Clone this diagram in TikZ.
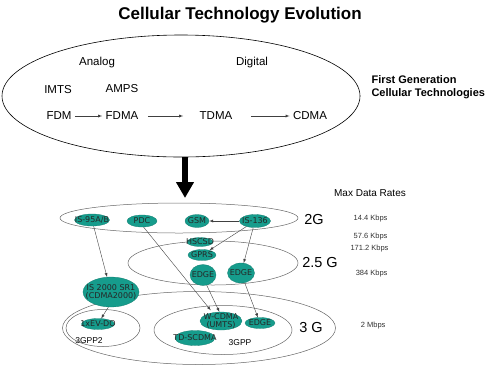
\documentclass[tikz,border=0pt]{standalone}
\usepackage{fontspec}
\setmainfont{Liberation Sans}
\newfontfamily\techfont{DejaVu Sans}
\usepackage{xcolor}
\usepackage{tikz}
\usetikzlibrary{shapes,arrows,arrows.meta,positioning,calc}

\definecolor{techteal}{RGB}{22,156,140}

\begin{document}
\begin{tikzpicture}[
    x=1pt, y=-1pt,
    font=\fontsize{11.5}{13}\selectfont,
    tech/.style={ellipse, fill=techteal, draw=techteal!80!black, line width=0.3pt, inner sep=0pt, label distance=0pt},
    techtext/.style={font=\techfont\fontsize{8}{8.5}\selectfont, text=black!85, align=center},
    level/.style={ellipse, draw=black!60, line width=0.5pt, inner sep=0pt},
    gen/.style={font=\fontsize{14.5}{16}\selectfont},
    rate/.style={anchor=east, font=\fontsize{7.5}{8}\selectfont, text=black!80},
    arrow/.style={-latex, draw=black!75, line width=0.4pt}
]
    \useasboundingbox (0,0) rectangle (500,368);

    % title and first generation
    \node (title) at (240,15) {\fontsize{17}{19}\selectfont\bfseries Cellular Technology Evolution};
    \node (topell) [ellipse, draw=black, line width=0.6pt, minimum width=358, minimum height=122] at (181,96) {};
    \node (analog) at (97,63) {Analog};
    \node (digital) at (252,63) {Digital};
    \node (imts) at (58,90) {IMTS};
    \node (amps) at (122,89) {AMPS};
    \node (fdm) at (59,116) {FDM};
    \node (fdma) at (122,116) {FDMA};
    \node (tdma) at (216,116) {TDMA};
    \node (cdma) at (310,116) {CDMA};
    \node (firstgen) [anchor=west, align=left, font=\fontsize{11}{13}\selectfont\bfseries] at (368,87) {First Generation\\Cellular Technologies};

    \draw [arrow] (fdm) -- (fdma);
    \draw [arrow, shorten <=6pt, shorten >=13pt] (fdma) -- (tdma);
    \draw [arrow, shorten <=15pt] (tdma) -- (cdma);

    \coordinate (down) at (185,198);
    \draw [line width=5.5pt, -{Triangle[length=16pt, width=17pt]}] (down |- topell.south) -- (down);

    % generation levels
    \node (rates) at (370,193) {\fontsize{10}{12}\selectfont Max Data Rates};
    \node (gtwo) [level, minimum width=238, minimum height=30] at (179,218) {};
    \node (gtwofive) [level, minimum width=170, minimum height=44] at (213,263) {};
    \node (gthree) [level, minimum width=273, minimum height=73] at (199,328) {};
    \node (gpptwo) [level, minimum width=74, minimum height=37] at (103,328) {};
    \node (gpp) [level, minimum width=138, minimum height=49] at (223,330) {};

    \node (lbltwo) [gen] at (314,219) {2G};
    \node (lbltwofive) [gen] at (320,262) {2.5 G};
    \node (lblthree) [gen] at (311,327) {3 G};
    \node (lblgpptwo) [font=\fontsize{8.5}{9}\selectfont] at (89,341) {3GPP2};
    \node (lblgpp) [font=\fontsize{8.5}{9}\selectfont] at (240,343) {3GPP};

    \node (rone) [rate] at (391,219) {14.4 Kbps};
    \node (rtwo) [rate] at (391,237) {57.6 Kbps};
    \node (rthree) [rate] at (392,249) {171.2 Kbps};
    \node (rfour) [rate] at (391,274) {384 Kbps};
    \node (rfive) [rate] at (389,326) {2 Mbps};

    % technologies
    \node (isninefive) [tech, minimum width=35, minimum height=12, label={[techtext]center:IS-95A/B}] at (92,220) {};
    \node (pdc) [tech, minimum width=30, minimum height=12, label={[techtext]center:PDC}] at (142,221) {};
    \node (gsm) [tech, minimum width=24, minimum height=13, label={[techtext]center:GSM}] at (197,221) {};
    \node (isonethree) [tech, minimum width=31, minimum height=13, label={[techtext]center:IS-136}] at (255,221) {};
    \node (hscsd) [tech, minimum width=26, minimum height=9, label={[techtext]center:HSCSD}] at (200,242) {};
    \node (gprs) [tech, minimum width=28, minimum height=11, label={[techtext]center:GPRS}] at (202,255) {};
    \node (edgea) [tech, minimum width=26, minimum height=21, label={[techtext]center:EDGE}] at (203,275) {};
    \node (edgeb) [tech, minimum width=27, minimum height=20, label={[techtext]center:EDGE}] at (241,273) {};
    \node (istwok) [tech, minimum width=56, minimum height=30, label={[techtext]center:IS 2000 SR1\\(CDMA2000)}] at (111,292) {};
    \node (evdo) [tech, minimum width=33, minimum height=11, label={[techtext]center:1xEV-DO}] at (98,324) {};
    \node (wcdma) [tech, minimum width=42, minimum height=18, label={[techtext]center:W-CDMA\\(UMTS)}] at (221,321) {};
    \node (edgec) [tech, minimum width=30, minimum height=11, label={[techtext]center:EDGE}] at (260,323) {};
    \node (tdscdma) [tech, minimum width=40, minimum height=15, label={[techtext]center:TD-SCDMA}] at (195,338) {};

    \draw [arrow] (isonethree) -- (gsm);
    \draw [arrow] (isonethree) -- (gprs);
    \draw [arrow] (isonethree) -- (edgeb);
    \draw [arrow] (isninefive) -- (istwok);
    \draw [arrow, shorten >=3pt] (pdc.-75) -- (wcdma.135);
    \draw [arrow] (edgea.-70) -- (wcdma.100);
    \draw [arrow] (edgeb) -- (edgec);
    \draw [arrow] (istwok.-100) -- (evdo.60);
\end{tikzpicture}
\end{document}
